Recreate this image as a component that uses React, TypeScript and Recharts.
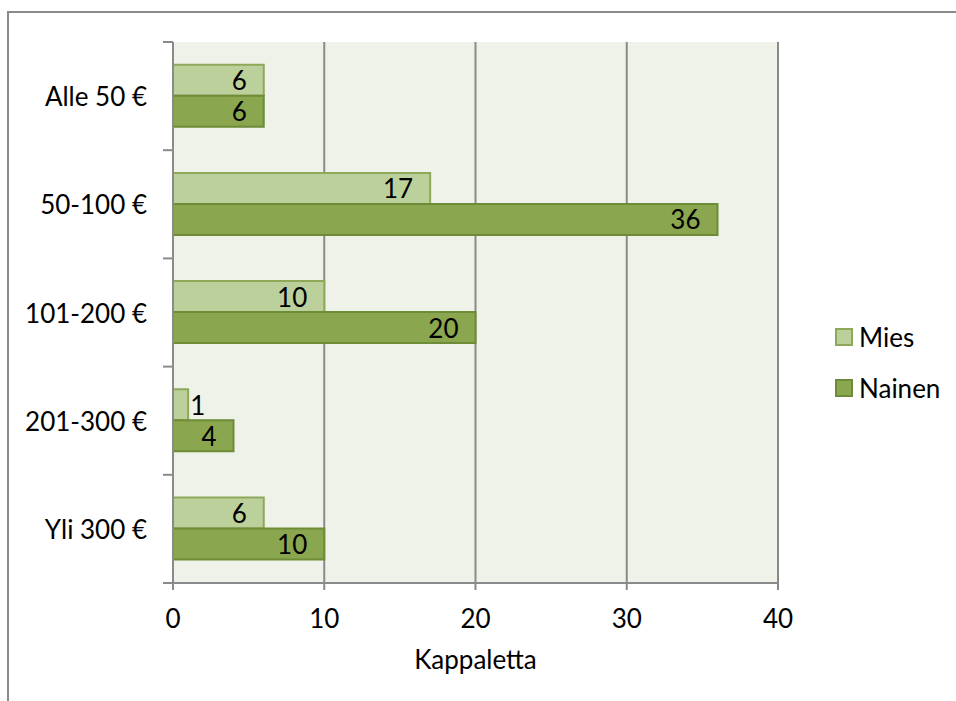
import React from 'react';
import {
    BarChart,
    Bar,
    XAxis,
    YAxis,
    CartesianGrid,
    LabelList,
} from 'recharts';

// Hintaluokat ja vastaajat sukupuolen mukaan
const categories = ['Alle 50 €', '50-100 €', '101-200 €', '201-300 €', 'Yli 300 €'];
const miesValues = [6, 17, 10, 1, 6];
const nainenValues = [6, 36, 20, 4, 10];
const xTicks = [0, 10, 20, 30, 40];

const FONT = 'Lato, "DejaVu Sans", sans-serif';
const FONT_SIZE = 26;
const AXIS_GRAY = '#8a8a8a';

const MIES_FILL = '#bcd09b';
const MIES_STROKE = '#8ea85a';
const NAINEN_FILL = '#8aa64e';
const NAINEN_STROKE = '#6e8c37';

const series = [
    { key: 'mies', label: 'Mies', fill: MIES_FILL, stroke: MIES_STROKE },
    { key: 'nainen', label: 'Nainen', fill: NAINEN_FILL, stroke: NAINEN_STROKE },
];

const data = categories.map((name, i) => ({
    name,
    mies: miesValues[i],
    nainen: nainenValues[i],
}));

const Y_TICK_SIZE = 10;
const Y_TICK_MARGIN = 16;

/**
 * Kategoria-akselin nimike; viivamerkit piirretään luokkien rajoille
 */
const CategoryTick = (props: any) => {
    const { x, y, payload, index, visibleTicksCount } = props;
    const half = payload?.offset ?? 54;
    const lineStart = x + Y_TICK_MARGIN;
    const lineEnd = lineStart + Y_TICK_SIZE;
    return (
        <g>
            <line x1={lineStart} x2={lineEnd} y1={y - half} y2={y - half} stroke={AXIS_GRAY} strokeWidth={2} />
            {index === visibleTicksCount - 1 && (
                <line x1={lineStart} x2={lineEnd} y1={y + half} y2={y + half} stroke={AXIS_GRAY} strokeWidth={2} />
            )}
            <text
                x={x}
                y={y}
                textAnchor="end"
                dominantBaseline="central"
                fontFamily={FONT}
                fontSize={FONT_SIZE}
                fill="#000"
            >
                {payload.value}
            </text>
        </g>
    );
};

/**
 * Arvo palkin sisäpäätyyn; liian lyhyen palkin arvo jatkuu palkin oikealle puolelle
 */
const ValueLabel = (props: any) => {
    const { x, y, width, height, value } = props;
    const fits = width > 24;
    return (
        <text
            x={fits ? x + width - 17 : x + width + 2}
            y={y + height / 2}
            textAnchor={fits ? 'end' : 'start'}
            dominantBaseline="central"
            fontFamily={FONT}
            fontSize={FONT_SIZE}
            fill="#000"
        >
            {value}
        </text>
    );
};

const SeriesLegend = () => (
    <div
        style={{
            position: 'absolute',
            left: 835,
            top: 311,
            fontFamily: FONT,
            fontSize: FONT_SIZE,
            color: '#000',
        }}
    >
        {series.map(item => (
            <div key={item.key} style={{ display: 'flex', alignItems: 'center', height: 51 }}>
                <span
                    style={{
                        display: 'inline-block',
                        width: 14,
                        height: 14,
                        background: item.fill,
                        border: `2px solid ${item.stroke}`,
                        marginRight: 6,
                    }}
                />
                {item.label}
            </div>
        ))}
    </div>
);

export default function App() {
    return (
        <div
            style={{
                position: 'absolute',
                left: 0,
                top: 0,
                width: 956,
                height: 701,
                overflow: 'hidden',
                background: '#fff',
            }}
        >
            {/* kaavioalueen reunus */}
            <div
                style={{
                    position: 'absolute',
                    left: 7,
                    top: 11,
                    width: 2000,
                    height: 2000,
                    borderLeft: `2px solid ${AXIS_GRAY}`,
                    borderTop: `2px solid ${AXIS_GRAY}`,
                }}
            />
            <BarChart
                width={956}
                height={701}
                data={data}
                layout="vertical"
                margin={{ top: 42, right: 178, left: 0, bottom: 8 }}
                barCategoryGap="21%"
                barGap={0}
                style={{ position: 'absolute', left: 0, top: 0 }}
            >
                <CartesianGrid
                    horizontal={false}
                    vertical
                    fill="#eff2e9"
                    stroke={AXIS_GRAY}
                    strokeWidth={2}
                />
                <XAxis
                    type="number"
                    domain={[0, 40]}
                    ticks={xTicks}
                    height={110}
                    stroke={AXIS_GRAY}
                    strokeWidth={2}
                    tickSize={7}
                    tickMargin={20}
                    tick={{ fontFamily: FONT, fontSize: FONT_SIZE, fill: '#000' }}
                    label={{
                        value: 'Kappaletta',
                        position: 'insideTop',
                        offset: 68,
                        fontFamily: FONT,
                        fontSize: FONT_SIZE,
                        fill: '#000',
                    }}
                />
                <YAxis
                    type="category"
                    dataKey="name"
                    width={173}
                    stroke={AXIS_GRAY}
                    strokeWidth={2}
                    tickLine={false}
                    tickSize={Y_TICK_SIZE}
                    tickMargin={Y_TICK_MARGIN}
                    tick={<CategoryTick />}
                    interval={0}
                />
                {series.map(s => (
                    <Bar
                        key={s.key}
                        dataKey={s.key}
                        name={s.label}
                        fill={s.fill}
                        stroke={s.stroke}
                        strokeWidth={2}
                        isAnimationActive={false}
                    >
                        <LabelList dataKey={s.key} content={<ValueLabel />} />
                    </Bar>
                ))}
            </BarChart>
            <SeriesLegend />
        </div>
    );
}
